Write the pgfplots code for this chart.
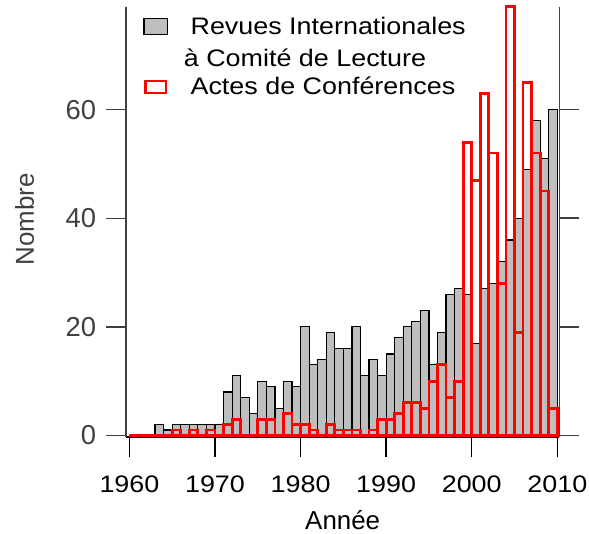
\documentclass[border=0pt]{standalone}
\usepackage{fontspec}
\setmainfont{Liberation Sans}
\newfontfamily\widesans[FakeStretch=1.125]{Liberation Sans}
\usepackage{pgfplots}
\usepackage{pgfplotstable}
\pgfplotsset{compat=1.18}
\definecolor{histgray}{HTML}{BEBEBE}
\definecolor{axgray}{HTML}{404040}

% left edge of each one-year bin; the last row only closes the last bin
\pgfplotstableread{
year revues actes
1960 0 0
1961 0 0
1962 0 0
1963 2 0
1964 1 0
1965 2 1
1966 2 0
1967 2 1
1968 2 0
1969 2 1
1970 2 0
1971 8 2
1972 11 3
1973 7 0
1974 4 0
1975 10 3
1976 9 3
1977 5 0
1978 10 4
1979 9 2
1980 20 2
1981 13 1
1982 14 0
1983 19 2
1984 16 1
1985 16 1
1986 20 1
1987 11 0
1988 14 1
1989 11 3
1990 15 3
1991 18 4
1992 20 6
1993 21 6
1994 23 5
1995 13 10
1996 19 13
1997 26 7
1998 27 10
1999 26 54
2000 17 47
2001 27 63
2002 28 52
2003 32 28
2004 36 79
2005 40 19
2006 49 65
2007 58 52
2008 51 45
2009 60 5
2010 0 0
}\datatable

% shared geometry; given after the axis line keys so that it wins
\pgfplotsset{
  frame/.style={
    scale only axis, width=433.3bp, height=430bp,
    xmin=1959.6, xmax=2010.23, ymin=-0.28, ymax=78.9,
    clip=false,
    tick align=outside, major tick length=20bp,
    ytick={0,20,40,60}, minor tick num=0,
    x axis line style={-, black, line width=1.2bp},
    y axis line style={-, axgray, line width=1.2bp},
    x tick style={black, line width=1.5bp},
    y tick style={axgray, line width=1.5bp},
  },
}

\begin{document}
\begin{tikzpicture}
\begin{axis}[
  axis x line=bottom, axis y line=left,
  frame,
  xtick={1960,1970,...,2010},
  /pgf/number format/assume math mode=true,
  /pgf/number format/1000 sep={},
  x tick label style={font=\fontsize{24}{28}\selectfont\widesans, anchor=base, inner sep=0pt, yshift=-35.4bp},
  y tick label style={font=\fontsize{27.5}{32}\selectfont, text=axgray, anchor=east, inner sep=0pt, xshift=-9.6bp},
  xlabel={Année}, ylabel={Nombre},
  every axis x label/.style={at={(axis description cs:0.5001,-0.2147)}, anchor=base, font=\fontsize{26}{30}\selectfont},
  every axis y label/.style={at={(axis description cs:-0.2338,0.5065)}, rotate=90, anchor=center, inner sep=0pt, text=axgray, font=\fontsize{26}{30}\selectfont},
  legend style={at={(axis description cs:0.03993,0.97837)}, anchor=north west,
    draw=none, fill=none, inner sep=0pt, outer sep=0pt, row sep=38.5bp, column sep=0pt,
    font=\fontsize{24}{28}\selectfont\widesans,
    cells={anchor=base west, inner sep=0pt, text height=16bp, text depth=4bp}},
]
\addplot[ybar interval, bar interval width=1, bar interval shift=0.5,
  fill=histgray, draw=black, line width=1.2bp,
  legend image code/.code={
    \draw[fill=histgray, draw=black, line width=1.2bp] (0bp,0bp) rectangle (23.4bp,15.6bp);
    \path[draw=none, fill=none] (0bp,0bp) -- (44.7bp,0bp);}]
  table[x=year, y=revues] {\datatable};
\addlegendentry{\rlap{\smash{\raisebox{-32bp}{\hspace*{-6.7bp}à Comité de Lecture}}}Revues Internationales}
\addplot[ybar interval, bar interval width=1, bar interval shift=0.5,
  fill=none, draw=red, line width=2.8bp,
  legend image code/.code={
    \draw[draw=red, line width=2.7bp] (1.35bp,1.35bp) rectangle (22.05bp,13.15bp);
    \path[draw=none, fill=none] (0bp,0bp) -- (44.7bp,0bp);}]
  table[x=year, y=actes] {\datatable};
\addlegendentry{Actes de Conférences}
\path ([shift={(-126bp,-97bp)}]rel axis cs:0,0) rectangle ([shift={(463bp,437bp)}]rel axis cs:0,0);
\end{axis}
% right-hand side: line and unlabeled ticks only
\begin{axis}[
  axis x line=none, axis y line=right,
  frame,
  yticklabels={},
]
\end{axis}
\end{tikzpicture}
\end{document}
